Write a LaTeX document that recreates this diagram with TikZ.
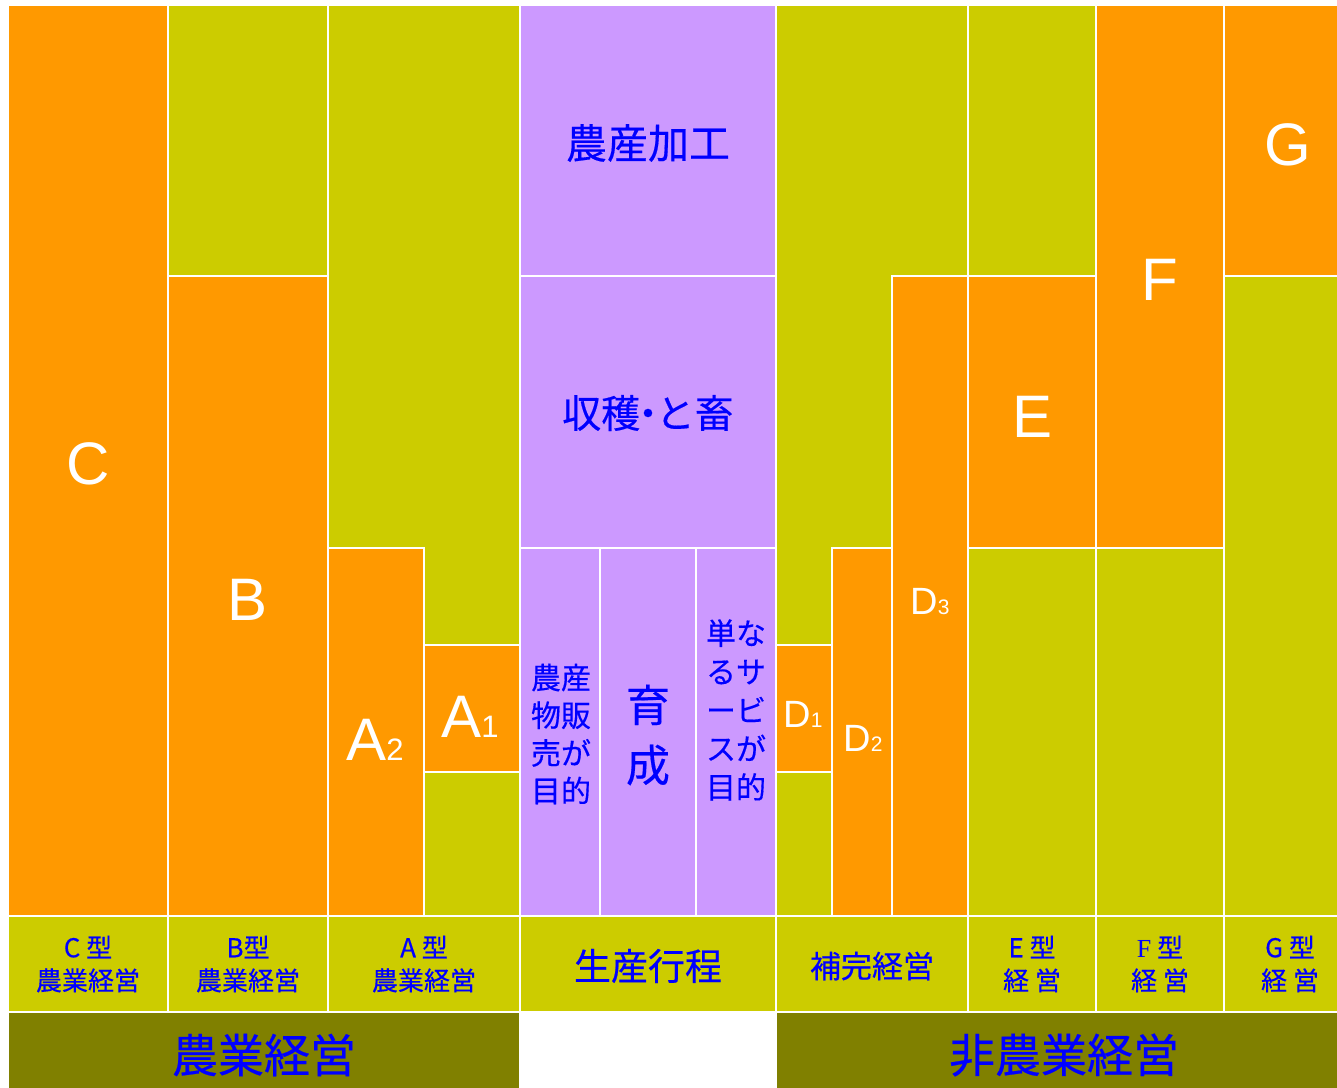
\documentclass[tikz,border=0pt]{standalone}
\usepackage{fontspec}
\setmainfont{Liberation Sans}
\newfontfamily\jp[FakeBold=0.4]{Noto Sans CJK JP}
\newfontfamily\serifF{Liberation Serif}
\definecolor{org}{HTML}{FF9900}
\definecolor{ylw}{HTML}{CCCC00}
\definecolor{prp}{HTML}{CC99FF}
\definecolor{olv}{HTML}{808000}
\definecolor{txb}{HTML}{0000FF}
\begin{document}
\begin{tikzpicture}[x=1pt,y=-1pt,
  cellbase/.style={draw=white,line width=2pt},
  o/.style={cellbase,fill=org},
  yl/.style={cellbase,fill=ylw},
  pu/.style={cellbase,fill=prp},
  ol/.style={cellbase,fill=olv},
  big/.style={text=white,inner sep=0pt,anchor=base,font=\fontsize{60}{60}\selectfont},
  mid/.style={text=white,inner sep=0pt,anchor=base,font=\fontsize{38}{38}\selectfont},
  jt/.style={text=txb,inner sep=0pt,align=center,font=\jp\fontsize{#1}{#1}\selectfont},
  jl/.style 2 args={text=txb,inner sep=0pt,align=center,font=\jp\fontsize{#1}{#2}\selectfont}]
\useasboundingbox (0,0) rectangle (1337,1087);
\clip (0,0) rectangle (1337,1087);
\fill[white] (0,0) rectangle (1337,1087);
% column C
\path[o] (8,5) rectangle (168,916);
% column B
\path[yl] (168,5) rectangle (328,276);
\path[o] (168,276) rectangle (328,916);
% column A
\path[yl] (328,5) rectangle (520,645);
\path[o] (328,548) rectangle (424,916);
\path[o] (424,645) rectangle (520,772);
\path[yl] (424,772) rectangle (520,916);
% middle column
\path[pu] (520,5) rectangle (776,276);
\path[pu] (520,276) rectangle (776,548);
\path[pu] (520,548) rectangle (600,916);
\path[pu] (600,548) rectangle (696,916);
\path[pu] (696,548) rectangle (776,916);
% D columns
\path[yl] (776,5) rectangle (968,916);
\path[o] (892,276) rectangle (968,916);
\path[o] (832,548) rectangle (892,916);
\path[o] (776,645) rectangle (832,772);
% E column
\path[yl] (968,5) rectangle (1096,276);
\path[o] (968,276) rectangle (1096,548);
\path[yl] (968,548) rectangle (1096,916);
% F column
\path[o] (1096,5) rectangle (1224,548);
\path[yl] (1096,548) rectangle (1224,916);
% G column
\path[o] (1224,5) rectangle (1352,276);
\path[yl] (1224,276) rectangle (1352,916);
% label row
\path[yl] (8,916) rectangle (168,1012);
\path[yl] (168,916) rectangle (328,1012);
\path[yl] (328,916) rectangle (520,1012);
\path[yl] (520,916) rectangle (776,1012);
\path[yl] (776,916) rectangle (968,1012);
\path[yl] (968,916) rectangle (1096,1012);
\path[yl] (1096,916) rectangle (1224,1012);
\path[yl] (1224,916) rectangle (1352,1012);
% bottom row
\path[ol] (8,1012) rectangle (520,1100);
\path[ol] (776,1012) rectangle (1352,1100);

% big letters
\node[big] (lC) at (88,484) {C};
\node[big] (lB) at (248,620) {B};
\node[big] (lA2) at (375,760) {A{\fontsize{31}{31}\selectfont 2}};
\node[big] (lA1) at (470,737) {A{\fontsize{31}{31}\selectfont 1}};
\node[mid] (lD1) at (803,727) {D{\fontsize{21}{21}\selectfont 1}};
\node[mid] (lD2) at (863,751) {D{\fontsize{21}{21}\selectfont 2}};
\node[mid] (lD3) at (930,614) {D{\fontsize{21}{21}\selectfont 3}};
\node[big] (lE) at (1032,437) {E};
\node[big] (lF) at (1160,300) {F};
\node[big] (lG) at (1288,165) {G};

% middle texts
\node[jt=41] (kakou) at (648,143) {農産加工};
\node[jt=39] (shukaku) at (648,413) {収穫\kern-0.3em・\kern-0.3em と畜};
\node[jl={30}{37.7}] (hanbai) at (561,734) {農産\\物販\\売が\\目的};
\node[jl={44}{60}] (ikusei) at (648,735) {育\\成};
\node[jl={30}{38.5}] (service) at (736,710) {単な\\るサ\\ービ\\スが\\目的};

% label row texts
\node[jl={26}{33}] (tC) at (88,964) {C 型\\農業経営};
\node[jl={26}{33}] (tB) at (248,964) {B型\\農業経営};
\node[jl={26}{33}] (tA) at (424,964) {A 型\\農業経営};
\node[jt=37] (tProc) at (648,966) {生産行程};
\node[jt=31] (tHokan) at (872,966) {補完経営};
\node[jl={26}{33}] (tE) at (1032,964) {E 型\\経 営};
\node[jl={26}{33}] (tF) at (1160,964) {{\serifF F} 型\\経 営};
\node[jl={26}{33}] (tG) at (1290,964) {G 型\\経 営};

% bottom texts
\node[jt=46] (nougyou) at (264,1055) {農業経営};
\node[jt=46] (hinougyou) at (1064,1055) {非農業経営};
\end{tikzpicture}
\end{document}
